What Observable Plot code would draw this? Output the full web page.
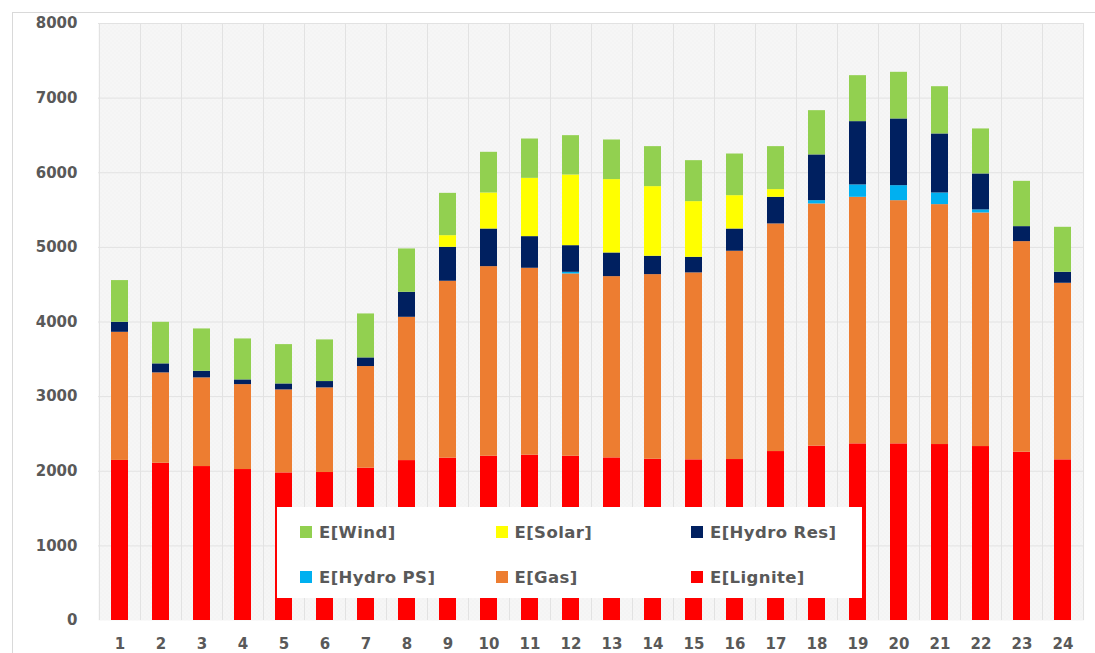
<!DOCTYPE html>
<html>
<head>
<meta charset="utf-8">
<script src="https://cdn.jsdelivr.net/npm/d3@7"></script>
<script src="https://cdn.jsdelivr.net/npm/@observablehq/plot@0.6"></script>
<style>
  body { margin: 0; background: #fff; }
  #wrap { position: relative; width: 1095px; height: 653px; overflow: hidden; font-family: "DejaVu Sans", sans-serif; }
  #border { position: absolute; left: 12px; top: 12px; right: 0; bottom: 0; border-top: 1px solid #d9d9d9; border-left: 1px solid #d9d9d9; pointer-events: none; }
  #legend { position: absolute; left: 277px; top: 507px; width: 585px; height: 91px; background: #fff; }
  .item { position: absolute; height: 20px; display: flex; align-items: center; font-weight: bold; font-size: 16.5px; letter-spacing: 0.4px; color: #595959; white-space: nowrap; }
  .sw { width: 12px; height: 12px; margin-right: 7px; flex: none; }
</style>
</head>
<body>
<div id="wrap">
  <div id="chart"></div>
  <div id="border"></div>
  <div id="legend"></div>
</div>
<script>
// Hourly expected generation by source (MW), hours 1-24
const hours = [1, 2, 3, 4, 5, 6, 7, 8, 9, 10, 11, 12, 13, 14, 15, 16, 17, 18, 19, 20, 21, 22, 23, 24];
const lignite  = [2145, 2107, 2063, 2023, 1978, 1983, 2041, 2143, 2175, 2201, 2215, 2201, 2179, 2161, 2153, 2157, 2264, 2336, 2367, 2367, 2358, 2331, 2255, 2153];
const gas      = [1717, 1211, 1188, 1138, 1112, 1134, 1362, 1920, 2371, 2541, 2505, 2443, 2429, 2474, 2505, 2791, 3050, 3246, 3304, 3259, 3215, 3130, 2822, 2366];
const hydroPS  = [0, 0, 0, 0, 0, 0, 0, 0, 0, 0, 0, 22, 0, 0, 0, 0, 0, 44, 166, 201, 156, 41, 0, 0];
const hydroRes = [134, 121, 89, 63, 80, 85, 116, 335, 455, 504, 424, 357, 317, 246, 209, 298, 357, 613, 848, 894, 791, 482, 201, 147];
const solar    = [0, 0, 0, 0, 0, 0, 0, 0, 156, 483, 781, 947, 983, 933, 746, 447, 103, 0, 0, 0, 0, 0, 0, 0];
const wind     = [559, 557, 567, 549, 527, 558, 589, 581, 567, 545, 527, 527, 531, 536, 549, 558, 576, 593, 616, 625, 633, 603, 607, 603];

// Stack order, bottom to top
const sources = ["E[Lignite]", "E[Gas]", "E[Hydro PS]", "E[Hydro Res]", "E[Solar]", "E[Wind]"];
const sourceColors = ["#ff0000", "#ed7d31", "#00b0f0", "#002060", "#ffff00", "#92d050"];
const series = [lignite, gas, hydroPS, hydroRes, solar, wind];

const yTicks = [0, 1000, 2000, 3000, 4000, 5000, 6000, 7000, 8000];

// Legend layout: two rows of three entries
const legendRows = [
  ["E[Wind]", "E[Solar]", "E[Hydro Res]"],
  ["E[Hydro PS]", "E[Gas]", "E[Lignite]"]
];

const rows = [];
sources.forEach((s, k) => hours.forEach((h, i) => rows.push({hour: h, source: s, value: series[k][i]})));

const W = 1095, H = 653;
const mL = 98, mR = 11.5, mT = 23, mB = 33;
const step = (W - mL - mR) / hours.length;

const chart = Plot.plot({
  width: W,
  height: H,
  marginLeft: mL,
  marginRight: mR,
  marginTop: mT,
  marginBottom: mB,
  style: {fontFamily: "DejaVu Sans, sans-serif", fontSize: "15px", fontWeight: "bold", color: "#595959", background: "transparent", overflow: "visible"},
  x: {type: "band", domain: hours, paddingInner: 0.586, paddingOuter: 0.293, tickSize: 0, tickPadding: 18, label: null},
  y: {domain: [0, 8000], ticks: yTicks, tickFormat: d => String(d), tickSize: 0, tickPadding: 21, label: null},
  color: {domain: sources, range: sourceColors},
  marks: [
    Plot.frame({fill: "url(#bg-hatch)", stroke: null}),
    Plot.ruleY(yTicks.slice(1), {stroke: "#e2e2e2", strokeWidth: 1}),
    Plot.ruleX(hours, {dx: -step / 2, stroke: "#e2e2e2", strokeWidth: 1}),
    Plot.ruleX(hours.slice(-1), {dx: step / 2, stroke: "#e2e2e2", strokeWidth: 1}),
    Plot.barY(rows, {x: "hour", y: "value", fill: "source"})
  ]
});

// Fine dither texture behind the plotting area
d3.select(chart).insert("defs", ":first-child").html(
  '<pattern id="bg-hatch" width="4" height="4" patternUnits="userSpaceOnUse">' +
  '<rect width="4" height="4" fill="#f6f6f6"/>' +
  '<rect x="0" y="0" width="1" height="1" fill="#ececec"/>' +
  '<rect x="2" y="2" width="1" height="1" fill="#ececec"/>' +
  '</pattern>'
);

document.getElementById("chart").appendChild(chart);

// Legend box
const legend = document.getElementById("legend");
const colorOf = Object.fromEntries(sources.map((s, i) => [s, sourceColors[i]]));
legendRows.forEach((row, r) => {
  row.forEach((name, c) => {
    const item = document.createElement("div");
    item.className = "item";
    item.style.left = (23 + c * 195.5) + "px";
    item.style.top = (15 + r * 45) + "px";
    const sw = document.createElement("span");
    sw.className = "sw";
    sw.style.background = colorOf[name];
    const label = document.createElement("span");
    label.textContent = name;
    item.appendChild(sw);
    item.appendChild(label);
    legend.appendChild(item);
  });
});
</script>
</body>
</html>
